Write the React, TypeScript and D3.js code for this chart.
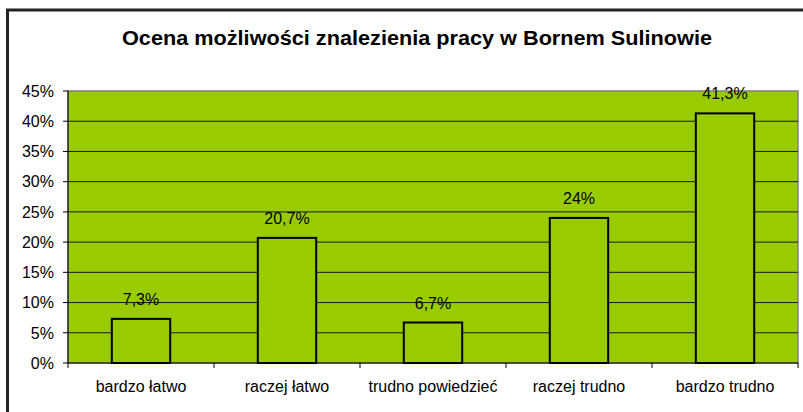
import React from "react";
import * as d3 from "d3";

const categories = ["bardzo łatwo", "raczej łatwo", "trudno powiedzieć", "raczej trudno", "bardzo trudno"];
const values = [7.3, 20.7, 6.7, 24, 41.3];
const valueLabels = ["7,3%", "20,7%", "6,7%", "24%", "41,3%"];
const yTicks = [0, 5, 10, 15, 20, 25, 30, 35, 40, 45];
const title = "Ocena możliwości znalezienia pracy w Bornem Sulinowie";

export default function App() {
  const W = 803, H = 412;
  const left = 68, right = 798, top = 91, bottom = 363;
  const x = d3.scaleBand<string>().domain(categories).range([left, right]).paddingInner(0.6).paddingOuter(0.3);
  const xb = d3.scaleBand<string>().domain(categories).range([left, right]);
  const y = d3.scaleLinear().domain([0, 45]).range([bottom, top]);
  const font = "'Liberation Sans', Arial, sans-serif";
  return (
    <svg width={W} height={H} style={{ position: "absolute", left: 0, top: 0 }} fontFamily={font}>
      <rect x={0} y={0} width={W} height={H} fill="#fff" />
      <rect x={7.5} y={10} width={W + 20} height={H + 20} fill="none" stroke="#222" strokeWidth={3} />
      <text x={122} y={45} fontSize={20} fontWeight="bold" fill="#000" textLength={590} lengthAdjust="spacingAndGlyphs">{title}</text>
      <rect x={left} y={top} width={right - left} height={bottom - top} fill="#99CC00" stroke="#808080" strokeWidth={1.5} />
      {yTicks.map((t) => (
        <g key={t}>
          {t > 0 && t < 45 && <line x1={left} x2={right} y1={y(t)} y2={y(t)} stroke="#1a1a1a" strokeWidth={1} />}
          <line x1={left - 5} x2={left} y1={y(t)} y2={y(t)} stroke="#000" strokeWidth={1} />
          <text x={54} y={y(t)} dy="0.36em" textAnchor="end" fontSize={16} fill="#000">{t}%</text>
        </g>
      ))}
      <line x1={left} x2={left} y1={top} y2={bottom} stroke="#000" strokeWidth={1} />
      <line x1={left} x2={right} y1={bottom} y2={bottom} stroke="#000" strokeWidth={1} />
      {categories.map((c, i) => (
        <line key={"t" + i} x1={(xb(c) as number) + xb.bandwidth()} x2={(xb(c) as number) + xb.bandwidth()} y1={bottom} y2={bottom + 5} stroke="#000" />
      ))}
      <line x1={left} x2={left} y1={bottom} y2={bottom + 5} stroke="#000" />
      {categories.map((c, i) => (
        <g key={c}>
          <rect x={x(c)} y={y(values[i])} width={x.bandwidth()} height={bottom - y(values[i])} fill="#99CC00" stroke="#000" strokeWidth={2} />
          <text x={(x(c) as number) + x.bandwidth() / 2} y={y(values[i]) - 14} textAnchor="middle" fontSize={16} fill="#000">{valueLabels[i]}</text>
          <text x={(xb(c) as number) + xb.bandwidth() / 2} y={392} textAnchor="middle" fontSize={16} fill="#000">{c}</text>
        </g>
      ))}
    </svg>
  );
}
